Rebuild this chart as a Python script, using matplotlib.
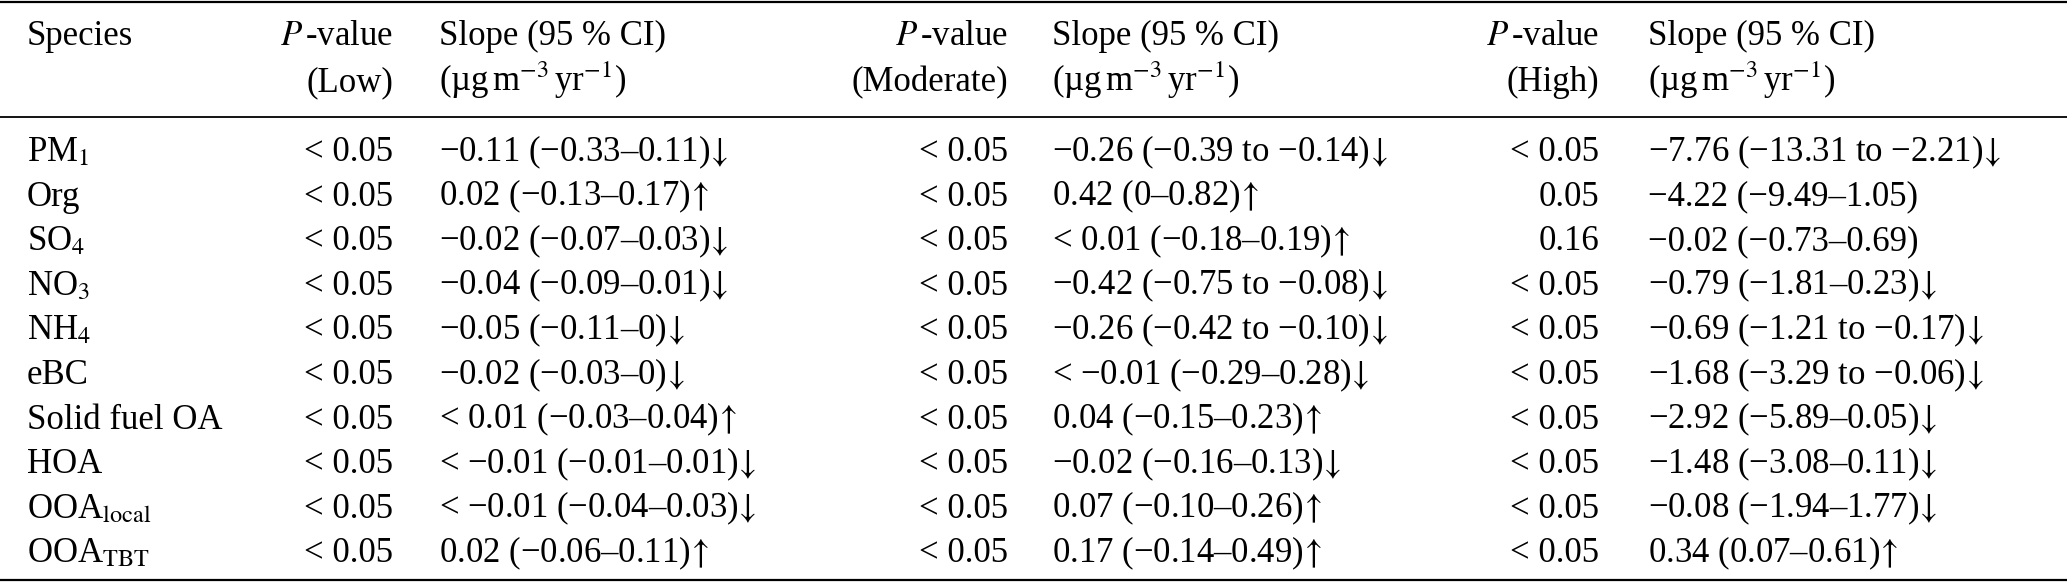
import matplotlib
matplotlib.use('Agg')
import matplotlib.pyplot as plt

plt.rcParams['font.family'] = ['Liberation Serif', 'DejaVu Serif']
plt.rcParams['mathtext.fontset'] = 'stix'

# table content
species = [r'PM$_1$', 'Org', r'SO$_4$', r'NO$_3$', r'NH$_4$', 'eBC',
           'Solid fuel OA', 'HOA', r'OOA$_{\mathrm{local}}$', r'OOA$_{\mathrm{TBT}}$']

p_low = ['< 0.05', '< 0.05', '< 0.05', '< 0.05', '< 0.05',
         '< 0.05', '< 0.05', '< 0.05', '< 0.05', '< 0.05']
slope_low = ['−0.11 (−0.33–0.11)', '0.02 (−0.13–0.17)', '−0.02 (−0.07–0.03)',
             '−0.04 (−0.09–0.01)', '−0.05 (−0.11–0)', '−0.02 (−0.03–0)',
             '< 0.01 (−0.03–0.04)', '< −0.01 (−0.01–0.01)', '< −0.01 (−0.04–0.03)',
             '0.02 (−0.06–0.11)']
trend_low = ['down', 'up', 'down', 'down', 'down', 'down', 'up', 'down', 'down', 'up']

p_mod = ['< 0.05', '< 0.05', '< 0.05', '< 0.05', '< 0.05',
         '< 0.05', '< 0.05', '< 0.05', '< 0.05', '< 0.05']
slope_mod = ['−0.26 (−0.39 to −0.14)', '0.42 (0–0.82)', '< 0.01 (−0.18–0.19)',
             '−0.42 (−0.75 to −0.08)', '−0.26 (−0.42 to −0.10)', '< −0.01 (−0.29–0.28)',
             '0.04 (−0.15–0.23)', '−0.02 (−0.16–0.13)', '0.07 (−0.10–0.26)',
             '0.17 (−0.14–0.49)']
trend_mod = ['down', 'up', 'up', 'down', 'down', 'down', 'up', 'down', 'up', 'up']

p_high = ['< 0.05', '0.05', '0.16', '< 0.05', '< 0.05',
          '< 0.05', '< 0.05', '< 0.05', '< 0.05', '< 0.05']
slope_high = ['−7.76 (−13.31 to −2.21)', '−4.22 (−9.49–1.05)', '−0.02 (−0.73–0.69)',
              '−0.79 (−1.81–0.23)', '−0.69 (−1.21 to −0.17)', '−1.68 (−3.29 to −0.06)',
              '−2.92 (−5.89–0.05)', '−1.48 (−3.08–0.11)', '−0.08 (−1.94–1.77)',
              '0.34 (0.07–0.61)']
trend_high = ['down', '', '', 'down', 'down', 'down', 'down', 'down', 'down', 'up']

levels = ['Low', 'Moderate', 'High']
arrows = {'down': r'$\!\downarrow$', 'up': r'$\!\uparrow$', '': ''}

W, H = 2067, 583
FS = 25

fig = plt.figure(figsize=(W / 100, H / 100), dpi=100)
ax = fig.add_axes([0, 0, 1, 1])
ax.set_xlim(0, W)
ax.set_ylim(H, 0)
ax.axis('off')

# column layout (pixels), text placed on baselines
x_species = 27
p_right = [393, 1008, 1599]
s_left = [439, 1052, 1648]
y_head = [45, 91]
y_row0, dy = 161, 44.6

# rules
ax.axhline(2, color='black', lw=1.6)
ax.axhline(117, color='black', lw=1.3)
ax.axhline(580, color='black', lw=1.6)

# header
ax.text(x_species, y_head[0], 'Species', fontsize=FS, va='baseline', ha='left')
for lvl, xp, xs in zip(levels, p_right, s_left):
    ax.text(xp, y_head[0], r'$P\,$-value', fontsize=FS, va='baseline', ha='right')
    ax.text(xp, y_head[1], f'({lvl})', fontsize=FS, va='baseline', ha='right')
    ax.text(xs, y_head[0], 'Slope (95 % CI)', fontsize=FS, va='baseline', ha='left')
    ax.text(xs, y_head[1], r'(µg$\,$m$^{-3}\,$yr$^{-1}$)', fontsize=FS,
            va='baseline', ha='left')

# body
cols = [(p_low, slope_low, trend_low), (p_mod, slope_mod, trend_mod),
        (p_high, slope_high, trend_high)]
for i, name in enumerate(species):
    y = y_row0 + i * dy
    ax.text(x_species, y, name, fontsize=FS, va='baseline', ha='left')
    for (pv, sl, tr), xp, xs in zip(cols, p_right, s_left):
        ax.text(xp, y, pv[i], fontsize=FS, va='baseline', ha='right')
        ax.text(xs, y, sl[i] + arrows[tr[i]], fontsize=FS, va='baseline', ha='left')

fig.savefig('out.png', dpi=100)
